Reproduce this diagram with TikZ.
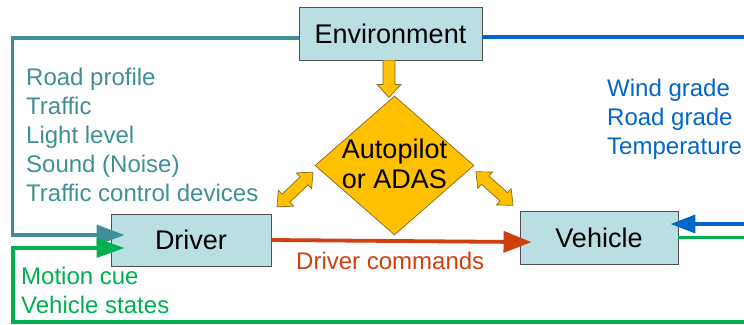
\documentclass[tikz,border=0pt]{standalone}
\usepackage{fontspec}
\setmainfont{Liberation Sans}
\usetikzlibrary{arrows.meta,shapes.geometric,calc}
\definecolor{tealc}{HTML}{3E9096}
\definecolor{bluec}{HTML}{0066CC}
\definecolor{greenc}{HTML}{00B050}
\definecolor{redc}{HTML}{D0400E}
\definecolor{orangec}{HTML}{FFC000}
\definecolor{orangeline}{HTML}{7F6A20}
\definecolor{boxfill}{HTML}{B9DFE2}
\definecolor{boxline}{HTML}{505050}
\begin{document}
\begin{tikzpicture}[x=1pt,y=1pt,
  box/.style={draw=boxline, fill=boxfill, line width=0.9pt, inner sep=0pt,
    font=\fontsize{27}{32}\selectfont},
  lbl/.style={inner sep=0pt, align=left, anchor=north west,
    font=\fontsize{24}{29}\selectfont},
  wire/.style={line width=3.8pt},
  blockarrow/.style={fill=orangec, draw=orangeline, line width=0.7pt, line join=miter}
]
\useasboundingbox (0,0) rectangle (744,-324);
\clip (0,0) rectangle (744,-324);

% nodes
\node[box, minimum width=183pt, minimum height=53pt] (env) at (390.5,-33.5) {Environment};
\node[box, minimum width=160pt, minimum height=52pt] (driver) at (191,-240) {Driver};
\node[box, minimum width=158pt, minimum height=53pt] (vehicle) at (599,-237.5) {Vehicle};
\node[diamond, fill=orangec, draw=orangeline, line width=0.7pt, inner sep=0pt,
      minimum width=159pt, minimum height=139pt] (ap) at (394.5,-165.5) {};
\node[inner sep=0pt, align=center, font=\fontsize{27}{30}\selectfont] (aptext) at ([yshift=1.5pt]ap.center) {Autopilot\\or ADAS};

% labels
\node[lbl, text=tealc] (envlbl) at (26,-67.8) {Road profile\\Traffic\\Light level\\Sound (Noise)\\Traffic control devices};
\node[lbl, text=bluec] (vehlbl) at (607,-78.8) {Wind grade\\Road grade\\Temperature};
\node[lbl, text=greenc] (drvlbl) at (21,-266.8) {Motion cue\\Vehicle states};
\node[lbl, text=redc] (cmdlbl) at (296,-251.8) {Driver commands};

% connectors
\coordinate (gbl) at (13,-322);
\draw[wire, draw=tealc, -{Triangle[length=28pt,width=20pt]}, shorten >=-14pt]
  ([yshift=-4.5pt]env.west) -| ([xshift=-98pt,yshift=5pt]driver.west) -- ([yshift=5pt]driver.west);
\draw[wire, line width=3.4pt, draw=greenc, -{Triangle[length=28pt,width=19pt]}, shorten >=-14pt]
  (vehicle.east) -- ++(90pt,0) |- (gbl) |- ([yshift=-8pt]driver.west);
\draw[wire, draw=bluec, -{Triangle[length=25pt,width=18pt]}, shorten >=-8pt]
  ([yshift=-3.5pt]env.east) -- ++(290pt,0) |- ([yshift=13.5pt]vehicle.east);
\draw[wire, draw=redc, -{Triangle[length=28pt,width=21pt]}, shorten >=-12pt]
  (driver.east) -- ([yshift=-4.5pt]vehicle.west);

% block arrows
\draw[blockarrow] ($(env.south)+(-1.5,0)$) ++(-6,0) -- ++(0,-24) -- ++(-6,0) -- ++(12,-13) -- ++(12,13) -- ++(-6,0) -- ++(0,24);
\begin{scope}[shift={(295,-189.5)}, rotate=44]
  \draw[blockarrow] (-25,0) -- (-12.5,11) -- (-12.5,5.6) -- (12.5,5.6) -- (12.5,11) -- (25,0)
    -- (12.5,-11) -- (12.5,-5.6) -- (-12.5,-5.6) -- (-12.5,-11) -- cycle;
\end{scope}
\begin{scope}[shift={(494.5,-188.5)}, rotate=-42]
  \draw[blockarrow] (-25,0) -- (-12.5,11) -- (-12.5,5.6) -- (12.5,5.6) -- (12.5,11) -- (25,0)
    -- (12.5,-11) -- (12.5,-5.6) -- (-12.5,-5.6) -- (-12.5,-11) -- cycle;
\end{scope}
\end{tikzpicture}
\end{document}
